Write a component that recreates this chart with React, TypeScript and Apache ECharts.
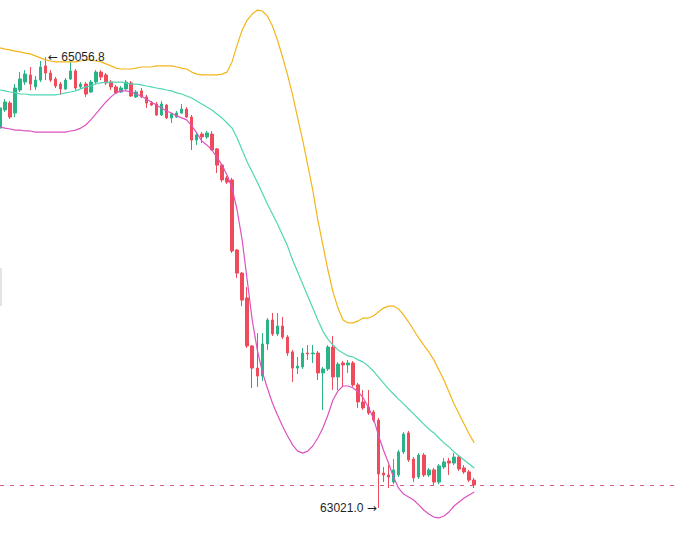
import React, { useEffect, useRef } from 'react';
import * as echarts from 'echarts';

// Each candle: [open, close, low, high]
const candles: number[][] = [
  [64737, 64828, 64728, 64846], [64819, 64855, 64810, 64868], [64850, 64787, 64778, 64859], [64805, 64918, 64787, 64936],
  [64909, 64959, 64900, 64990], [64945, 64981, 64932, 64999], [64977, 64936, 64909, 65013], [64923, 64954, 64909, 64972],
  [64954, 65013, 64945, 65040], [65018, 64986, 64954, 65056.8], [64986, 64954, 64945, 64999], [64959, 64927, 64918, 64968],
  [64936, 64914, 64887, 64945], [64914, 64954, 64909, 64963], [64959, 64995, 64954, 65036], [64995, 64918, 64909, 65004],
  [64923, 64936, 64914, 64945], [64936, 64891, 64878, 64945], [64900, 64945, 64896, 64954], [64945, 64990, 64936, 64999],
  [64990, 64968, 64954, 64999], [64977, 64941, 64932, 64986], [64945, 64923, 64909, 64954], [64923, 64896, 64891, 64932],
  [64900, 64918, 64896, 64927], [64914, 64945, 64909, 64954], [64941, 64882, 64878, 64950], [64878, 64900, 64873, 64909],
  [64905, 64878, 64873, 64918], [64878, 64850, 64828, 64887], [64850, 64841, 64837, 64859], [64846, 64796, 64792, 64855],
  [64796, 64846, 64792, 64859], [64841, 64783, 64778, 64846], [64783, 64801, 64760, 64805], [64787, 64805, 64783, 64814],
  [64805, 64823, 64801, 64846], [64823, 64787, 64783, 64832], [64787, 64683, 64638, 64796], [64683, 64706, 64661, 64715],
  [64710, 64697, 64670, 64719], [64697, 64715, 64688, 64724], [64710, 64638, 64634, 64724], [64643, 64570, 64534, 64647],
  [64570, 64503, 64493, 64575], [64512, 64493, 64484, 64521], [64503, 64182, 64173, 64512], [64186, 64082, 64060, 64191],
  [64082, 63960, 63933, 64087], [63970, 63753, 63744, 64019], [63753, 63653, 63563, 63757], [63653, 63617, 63568, 63811],
  [63617, 63762, 63595, 63811], [63762, 63870, 63735, 63879], [63870, 63807, 63798, 63902], [63807, 63843, 63798, 63902],
  [63843, 63793, 63784, 63884], [63793, 63721, 63708, 63802], [63726, 63653, 63590, 63735], [63653, 63662, 63626, 63703],
  [63658, 63721, 63649, 63744], [63721, 63717, 63690, 63757], [63717, 63721, 63676, 63757], [63721, 63631, 63599, 63730],
  [63631, 63649, 63464, 63658], [63649, 63748, 63640, 63757], [63748, 63613, 63554, 63798], [63613, 63671, 63554, 63680],
  [63676, 63667, 63568, 63685], [63667, 63676, 63631, 63690], [63676, 63577, 63568, 63685], [63577, 63500, 63473, 63586],
  [63500, 63473, 63464, 63554], [63477, 63450, 63441, 63554], [63455, 63418, 63409, 63464], [63418, 63175, 63021.0, 63428],
  [63179, 63170, 63138, 63206], [63170, 63161, 63111, 63215], [63138, 63193, 63129, 63242], [63170, 63274, 63161, 63283],
  [63274, 63355, 63265, 63364], [63360, 63238, 63229, 63369], [63242, 63157, 63138, 63251], [63161, 63260, 63152, 63269],
  [63260, 63170, 63161, 63269], [63170, 63193, 63161, 63202], [63193, 63138, 63125, 63202], [63138, 63211, 63129, 63220],
  [63206, 63229, 63197, 63247], [63233, 63224, 63170, 63247], [63224, 63251, 63215, 63269], [63251, 63197, 63188, 63260],
  [63202, 63184, 63175, 63215], [63184, 63147, 63138, 63193], [63147, 63124.9, 63111, 63157],
];

const bollUpper: number[] = [
  65099, 65094, 65090, 65085, 65081, 65076, 65072, 65063, 65054, 65045,
  65040, 65036, 65036, 65036, 65036, 65036, 65040, 65045, 65045, 65040,
  65036, 65027, 65018, 65008, 65004, 65004, 65004, 65008, 65013, 65013,
  65013, 65018, 65018, 65018, 65018, 65013, 65008, 65004, 64990, 64981,
  64977, 64977, 64977, 64977, 64981, 64990, 65036, 65112, 65180, 65225,
  65252, 65270, 65266, 65243, 65198, 65135, 65058, 64977, 64887, 64783,
  64683, 64570, 64457, 64322, 64209, 64096, 63997, 63924, 63870, 63857,
  63857, 63866, 63879, 63879, 63888, 63906, 63924, 63933, 63933, 63920,
  63893, 63861, 63825, 63789, 63757, 63726, 63690, 63644, 63599, 63545,
  63491, 63446, 63400, 63355, 63315,
];

const bollMid: number[] = [
  64909, 64905, 64900, 64896, 64891, 64891, 64887, 64887, 64887, 64887,
  64887, 64887, 64891, 64896, 64900, 64905, 64914, 64923, 64927, 64936,
  64941, 64945, 64945, 64945, 64945, 64941, 64936, 64936, 64932, 64927,
  64923, 64918, 64914, 64909, 64905, 64896, 64891, 64882, 64873, 64859,
  64846, 64832, 64819, 64801, 64783, 64760, 64737, 64692, 64638, 64584,
  64539, 64493, 64444, 64394, 64349, 64304, 64254, 64204, 64141, 64087,
  64033, 63979, 63924, 63870, 63820, 63784, 63757, 63735, 63721, 63708,
  63703, 63690, 63680, 63662, 63640, 63613, 63586, 63559, 63536, 63513,
  63491, 63468, 63446, 63423, 63400, 63378, 63360, 63337, 63315, 63297,
  63274, 63256, 63238, 63220, 63202,
];

const bollLower: number[] = [
  64742, 64737, 64733, 64728, 64728, 64724, 64724, 64719, 64719, 64719,
  64719, 64719, 64719, 64719, 64724, 64728, 64737, 64751, 64774, 64801,
  64828, 64855, 64878, 64896, 64905, 64905, 64900, 64891, 64882, 64868,
  64855, 64841, 64828, 64814, 64805, 64792, 64783, 64774, 64747, 64715,
  64679, 64661, 64638, 64606, 64570, 64525, 64466, 64367, 64232, 64051,
  63870, 63735, 63635, 63563, 63495, 63441, 63391, 63346, 63306, 63278,
  63269, 63278, 63301, 63337, 63382, 63441, 63509, 63550, 63572, 63572,
  63563, 63545, 63518, 63477, 63428, 63351, 63283, 63224, 63161, 63111,
  63084, 63071, 63057, 63035, 63012, 62994, 62980, 62976, 62985, 63003,
  63030, 63048, 63066, 63080, 63093,
];

const highIndex = 9;
const highValue = 65056.8;
const lowIndex = 75;
const lowValue = 63021.0;
const lastPrice = 63124.9;
const emptySlots = 40;

const categories: string[] = [
  ...candles.map((_, i) => `K${i + 1}`),
  ...Array(emptySlots).fill(''),
];

const UP = '#2BB387';
const DOWN = '#EE4B5B';

const labelRich = {
  a: { fontFamily: 'DejaVu Sans', fontSize: 12, color: '#1f1f1f' },
  b: { fontFamily: 'Liberation Sans, Arial, sans-serif', fontSize: 12, color: '#1f1f1f' },
};

export default function App() {
  const ref = useRef<HTMLDivElement>(null);
  useEffect(() => {
    if (!ref.current) return;
    const chart = echarts.init(ref.current, null, { renderer: 'svg' });
    chart.setOption({
      animation: false,
      backgroundColor: '#ffffff',
      grid: { left: 0, right: 0, top: 0, bottom: 0 },
      xAxis: {
        type: 'category',
        data: categories,
        boundaryGap: false,
        show: false,
      },
      yAxis: {
        type: 'value',
        min: 62844.8,
        max: 65315.6,
        show: false,
        splitLine: { show: false },
      },
      graphic: [
        {
          type: 'rect',
          left: 0,
          top: 268,
          shape: { width: 2, height: 38 },
          style: { fill: '#e3e3e3' },
          silent: true,
        },
      ],
      series: [
        {
          type: 'candlestick',
          data: candles,
          barWidth: 3,
          itemStyle: {
            color: UP,
            color0: DOWN,
            borderColor: UP,
            borderColor0: DOWN,
            borderWidth: 1,
          },
          markLine: {
            silent: true,
            symbol: ['none', 'none'],
            label: { show: false },
            lineStyle: { color: '#d4496c', type: [4, 6], width: 1, opacity: 0.9 },
            data: [{ yAxis: lastPrice }],
          },
          markPoint: {
            silent: true,
            symbol: 'circle',
            symbolSize: 1,
            itemStyle: { color: 'rgba(0,0,0,0)' },
            data: [
              {
                coord: [highIndex, highValue],
                label: {
                  show: true,
                  position: 'right',
                  distance: 2,
                  formatter: '{a|\u2190} {b|' + highValue.toFixed(1) + '}',
                  rich: labelRich,
                },
              },
              {
                coord: [lowIndex, lowValue],
                label: {
                  show: true,
                  position: 'left',
                  distance: 1,
                  formatter: '{b|' + lowValue.toFixed(1) + '} {a|\u2192}',
                  rich: labelRich,
                },
              },
            ],
          },
        },
        {
          type: 'line',
          name: 'UP',
          data: bollUpper,
          symbol: 'none',
          lineStyle: { color: '#F4B51B', width: 1.2 },
          silent: true,
        },
        {
          type: 'line',
          name: 'MB',
          data: bollMid,
          symbol: 'none',
          lineStyle: { color: '#4FD6B3', width: 1.2 },
          silent: true,
        },
        {
          type: 'line',
          name: 'DN',
          data: bollLower,
          symbol: 'none',
          lineStyle: { color: '#DD52C0', width: 1.2 },
          silent: true,
        },
      ],
    });
    return () => chart.dispose();
  }, []);
  return (
    <div
      ref={ref}
      style={{ position: 'fixed', left: 0, top: 0, width: 676, height: 547 }}
    />
  );
}
